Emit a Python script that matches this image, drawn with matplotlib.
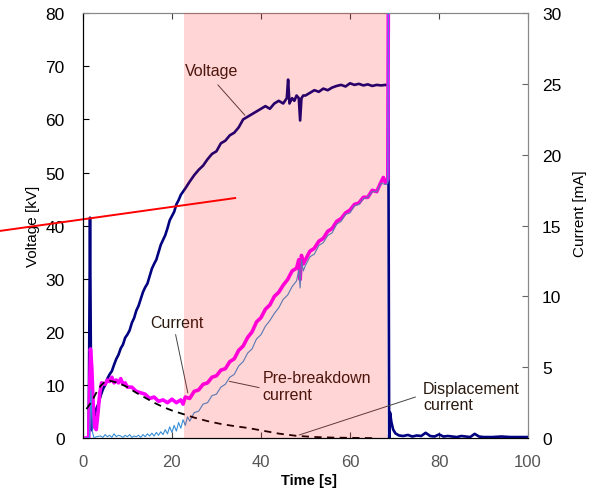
import matplotlib
matplotlib.use("Agg")
import matplotlib.pyplot as plt

plt.rcParams["font.family"] = ["Liberation Sans", "DejaVu Sans"]

# Voltage [kV] (left axis)
time_v = [0.5, 1.3, 1.6, 1.9, 2.3, 3, 3.5, 4, 4.5, 5, 5.5, 6, 6.5, 7, 7.5, 8, 8.5, 9, 9.5, 10, 10.5, 11, 11.5, 12,
          12.5, 13, 13.5, 14, 14.5, 15, 15.5, 16, 16.5, 17, 17.5, 18, 18.5, 19, 19.5, 20, 20.5, 21, 21.5, 22, 23,
          24, 25, 26, 27, 28, 29, 30, 31, 32, 33, 34, 35, 36, 37, 38, 39, 40, 41, 42, 43, 44, 45,
          45.8, 46.1, 46.4, 47, 47.5, 48, 48.5, 48.8, 49.1, 49.5, 50, 51, 52, 53, 54, 55, 56, 57, 58, 59, 60, 61,
          62, 63, 64, 65, 66, 67, 68, 68.6, 68.8, 69.0, 69.3, 69.7, 70.2, 71, 72, 73, 74, 75, 76, 77, 78, 79, 80,
          81, 82, 83, 84, 85, 86, 87, 88, 89, 90, 92, 94, 96, 98, 100]
voltage = [0, 0, 41.5, 1.5, 3, 5.5, 6.5, 8, 9.2, 10, 11.2, 12, 12.6, 13.8, 14.9, 15.7, 16.9, 17.6, 18.9, 19.5, 20.3,
           21.7, 22.6, 24, 24.9, 26.2, 27.5, 28.4, 29.1, 30.5, 31.9, 32.8, 33.6, 35, 36.4, 37.3, 38.2, 39.5, 41.0,
           41.8, 42.6, 44, 44.8, 45.8, 47, 48.3, 49.5, 50.5, 51.3, 52.5, 53.5, 54, 55.5, 56, 57, 57.5, 58.5, 60,
           60.5, 61, 61.5, 62, 62.5, 62, 63, 63.5, 63, 64, 67.5, 63, 64, 63.5, 64.5, 64, 59.8, 64, 64.5, 64.5, 65,
           65.5, 65.2, 65.8, 65.5, 66, 66.3, 66.5, 66.2, 66.8, 66.5, 66.7, 66.4, 66.6, 66.3, 66.5, 66.4, 66.5, 66.4,
           0, 4.8, 3.0, 1.6, 0.9, 0.5, 0.4, 0.6, 0.3, 0.5, 0.4, 1.0, 0.4, 0.3, 0.7, 0.3, 0.4, 0.3, 0.2, 0.4, 0.3,
           0.2, 0.8, 0.3, 0.2, 0.2, 0.3, 0.2, 0.2, 0.2]

# Current [mA] (right axis)
time_i = [0.5, 1.3, 1.5, 1.7, 2.0, 2.3, 2.6, 3.0, 3.4, 3.8, 4.2, 5, 5.5, 6, 6.5, 7, 7.5, 8, 8.5, 9, 9.5, 10, 11,
          12, 13, 14, 15, 16, 17, 18, 19, 20, 21, 22, 22.5, 23, 24, 25, 26, 27, 28, 29, 30, 31, 32, 33, 34, 35, 36,
          37, 38, 39, 40, 41, 42, 43, 44, 45, 46, 47, 48, 48.5, 48.8, 49.1, 49.5, 50, 51, 52, 53, 54, 55, 56, 57,
          58, 59, 60, 61, 62, 63, 64, 65, 66, 67, 67.5, 68, 68.5, 68.7]
current = [0, 0, 3, 6.3, 5.0, 2.5, 0.8, 0.6, 1.8, 3.2, 3.9, 3.8, 4.1, 4.0, 4.3, 3.9, 4.1, 3.9, 4.2, 3.8, 3.9, 3.6,
           3.6, 3.3, 3.2, 3.1, 2.8, 2.9, 2.6, 2.7, 2.5, 2.75, 2.5, 2.7, 2.4, 2.9, 2.8, 3.3, 3.4, 3.8, 3.9, 4.3, 4.4,
           4.8, 4.9, 5.4, 5.6, 6.2, 6.5, 7.1, 7.5, 8.2, 8.5, 9.1, 9.4, 10.0, 10.3, 10.8, 11.2, 11.8, 12.0, 12.6,
           11.2, 12.9, 12.3, 12.6, 13.2, 13.4, 13.9, 14.1, 14.6, 14.8, 15.3, 15.5, 15.9, 16.1, 16.5, 16.6, 17.0,
           17.0, 17.5, 17.4, 18.1, 18.4, 18.0, 18.3, 40]

# Pre-breakdown current [mA]
time_p = [0.5, 1.5, 1.8, 2.1, 2.5, 3, 4, 4.5, 5, 5.5, 6, 6.5, 7, 7.5, 8, 8.5, 9, 9.5, 10, 10.5, 11, 11.5, 12, 12.5,
          13, 13.5, 14, 14.5, 15, 15.5, 16, 16.5, 17, 17.5, 18, 18.5, 19, 19.5, 20, 20.5, 21, 21.5, 22, 22.5, 23,
          23.5, 24, 25, 26, 27, 28, 29, 30, 31, 32, 33, 34, 35, 36, 37, 38, 39, 40, 41, 42, 43, 44, 45, 46, 47, 48,
          48.5, 48.8, 49.1, 49.5, 50, 51, 52, 53, 54, 55, 56, 57, 58, 59, 60, 61, 62, 63, 64, 65, 66, 67, 68, 68.5,
          68.7]
prebreak = [0, 0, 3.4, 0.5, 0, 0.1, 0.15, 0.05, 0.25, 0.1, 0.2, 0.05, 0.3, 0.1, 0.2, 0.15, 0.05, 0.2, 0.1, 0.25,
            0.05, 0.15, 0.1, 0.2, 0.05, 0.25, 0.1, 0.3, 0.15, 0.35, 0.15, 0.4, 0.2, 0.45, 0.25, 0.6, 0.3, 0.8, 0.4,
            0.9, 0.5, 1.1, 0.7, 1.3, 0.9, 1.5, 1.2, 1.8, 1.9, 2.4, 2.5, 3.0, 3.1, 3.6, 3.8, 4.3, 4.5, 5.1, 5.4, 6.0,
            6.3, 7.0, 7.3, 7.9, 8.3, 8.8, 9.2, 9.8, 10.1, 10.7, 11.1, 11.9, 10.6, 12.6, 11.8, 12.2, 12.8, 13.0, 13.6,
            13.8, 14.3, 14.5, 15.1, 15.3, 15.8, 15.9, 16.4, 16.5, 16.9, 17.0, 17.4, 17.4, 18.0, 17.9, 18.0, 40]

# Displacement current [mA]
time_d = [0.8, 2, 3, 4, 5, 6, 8, 10, 12, 14, 16, 18, 20, 22, 25, 28, 31, 34, 37, 40, 44, 48, 52, 56, 60, 65]
displacement = [2.05, 2.6, 3.2, 3.7, 4.0, 4.05, 3.9, 3.6, 3.2, 2.85, 2.5, 2.2, 1.95, 1.75, 1.45, 1.2, 1.0, 0.85,
                0.72, 0.55, 0.32, 0.16, 0.08, 0.04, 0.02, 0.0]

fig = plt.figure(figsize=(5.92, 4.89), dpi=100)
ax = fig.add_axes([0.140, 0.102, 0.752, 0.869])
ax2 = ax.twinx()

ax.plot(time_v, voltage, color="#000080", linewidth=1.9, zorder=3)
ax2.plot(time_i, current, color="#FF00FF", linewidth=2.6, zorder=2)
ax2.plot(time_p, prebreak, color="#3A8FD6", linewidth=0.8, zorder=3)
ax2.plot(time_d, displacement, color="black", linewidth=1.3, linestyle=(0, (4, 3)), zorder=4)

# Shaded pre-breakdown period drawn on top (tints the lines underneath)
ax2.axvspan(22.7, 68.4, color="red", alpha=0.165, linewidth=0, zorder=10)

# Red line sticking out of the left side
ax.plot([-18.7, 34.2], [39.0, 45.2], color="red", linewidth=1.4, clip_on=False, zorder=11)

ax.set_xlim(0, 100)
ax.set_ylim(0, 80)
ax2.set_ylim(0, 30)
ax.set_xticks([0, 20, 40, 60, 80, 100])
ax.set_yticks(range(0, 81, 10))
ax2.set_yticks(range(0, 31, 5))

ax.tick_params(axis="y", direction="in", length=4, pad=13, labelsize=12.5, colors="black")
ax.tick_params(axis="x", direction="in", length=4, pad=11.5, labelsize=12, labelcolor="#555555",
               top=True, color="#444444")
ax2.tick_params(axis="y", direction="in", length=4, pad=10, labelsize=12.5, color="#666666")

for s in ["top", "right"]:
    ax.spines[s].set_color("#888888")
    ax2.spines[s].set_color("#888888")
ax2.spines["left"].set_color("black")
ax2.spines["bottom"].set_color("black")

ax.set_ylabel("Voltage [kV]", fontsize=11)
ax.yaxis.set_label_coords(-0.097, 0.5)
ax2.set_ylabel("Current [mA]", fontsize=11)
ax2.yaxis.set_label_coords(1.101, 0.53)
ax.set_xlabel("Time [s]", fontsize=10.5, fontweight="bold")
ax.xaxis.set_label_coords(0.508, -0.083)

# Labels with leader lines (in voltage units)
txt = dict(fontsize=11.5, color="#2a1a10", zorder=5)
lead = dict(arrowstyle="-", color="#444444", linewidth=0.7)
ax.text(22.9, 69.3, "Voltage", va="center", **txt)
ax.annotate("", xy=(36.8, 60.4), xytext=(29.9, 66.9), arrowprops=lead)
ax.text(15.1, 21.7, "Current", va="center", **txt)
ax.annotate("", xy=(23.7, 8.0), xytext=(20.7, 20.0), arrowprops=lead)
ax.text(40.4, 9.8, "Pre-breakdown\ncurrent", va="center", linespacing=1.1, **txt)
ax.annotate("", xy=(32.3, 10.8), xytext=(40.2, 9.4), arrowprops=lead)
ax.text(76.4, 7.9, "Displacement\ncurrent", va="center", linespacing=1.1, **txt)
ax.annotate("", xy=(48.0, 0.43), xytext=(75.3, 7.9), arrowprops=lead)

fig.savefig("out.png", dpi=100)
